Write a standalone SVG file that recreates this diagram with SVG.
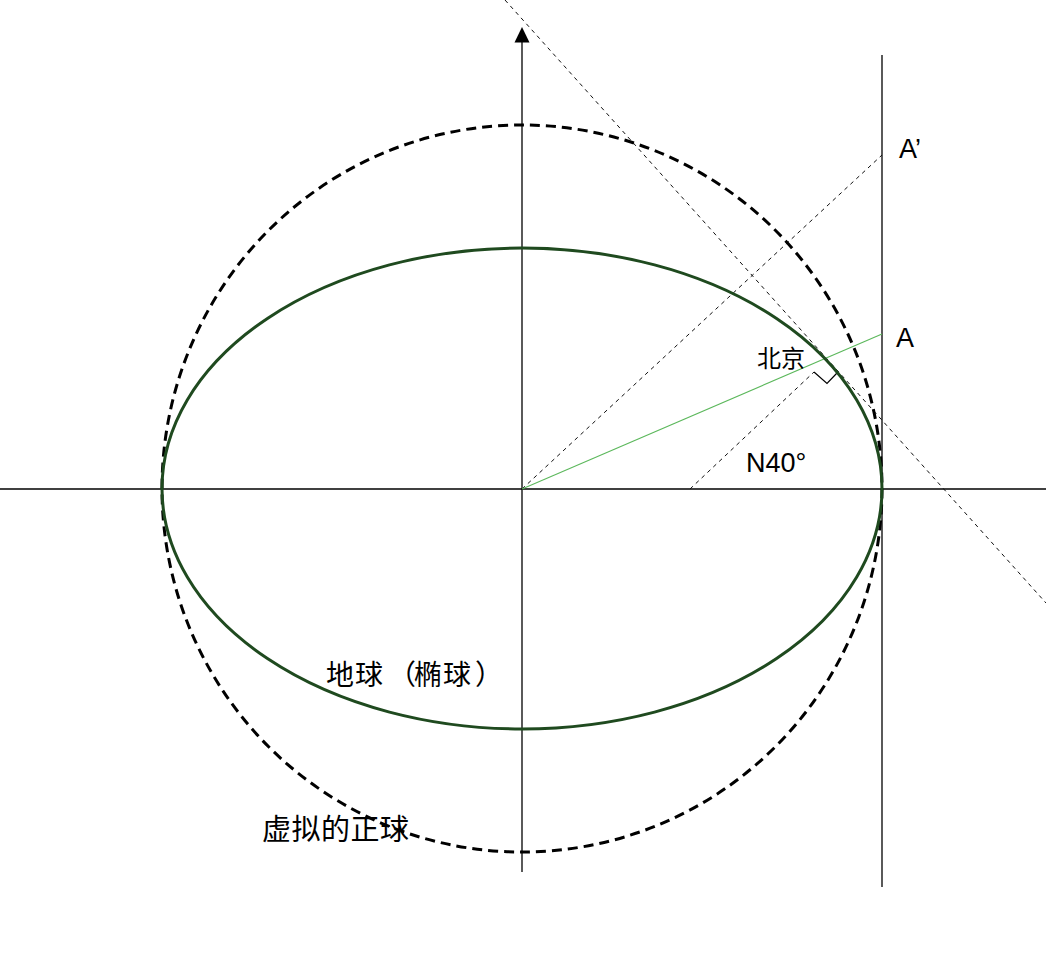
<svg xmlns="http://www.w3.org/2000/svg" width="1046" height="980" viewBox="0 0 1046 980">
<style>
.axis{stroke:#000;stroke-width:1.3;fill:none}
.thin{stroke:#111;stroke-width:1;stroke-dasharray:4 4;fill:none}
.lbl{font-family:"Liberation Sans","Noto Sans CJK SC",sans-serif;fill:#000}
.cjk{font-family:"Noto Sans CJK SC","Liberation Sans",sans-serif;fill:#000}
</style>
<rect width="1046" height="980" fill="#fff"/>
<g id="connectors">
<line class="axis" x1="0" y1="489" x2="1046" y2="489"/>
<line class="axis" x1="522" y1="872" x2="522" y2="42"/>
<path d="M514.5,42.5 L522,27 L529.5,42.5 Z" fill="#000"/>
<line class="axis" x1="882" y1="55" x2="882" y2="887"/>
<line class="thin" x1="505" y1="0" x2="1046" y2="603"/>
<line class="thin" x1="522" y1="489" x2="882" y2="155"/>
<line class="thin" x1="690" y1="489" x2="814" y2="372"/>
<polyline points="814,372 827,383.5 837,373" fill="none" stroke="#000" stroke-width="1.2"/>
<line x1="522" y1="489" x2="882" y2="334" stroke="#5cb85c" stroke-width="1.1"/>
</g>
<g id="sphere">
<ellipse cx="522" cy="488.5" rx="360" ry="363.5" fill="none" stroke="#000" stroke-width="3" stroke-dasharray="10 6"/>
</g>
<g id="earth">
<ellipse cx="522" cy="488.5" rx="360" ry="240.5" fill="none" stroke="#1f4a1f" stroke-width="3"/>
</g>
<g id="labels">
<text class="cjk" x="757" y="367" font-size="24">北京</text>
<text class="lbl" x="899" y="158" font-size="27">A’</text>
<text class="lbl" x="896" y="347" font-size="27">A</text>
<text class="lbl" x="746" y="472" font-size="27">N40°</text>
<text class="cjk" x="326 355 388 414 443 475" y="685" font-size="28">地球（椭球）</text>
<text class="cjk" x="262 291.5 321 350.5 380" y="840" font-size="29">虚拟的正球</text>
</g>
</svg>
